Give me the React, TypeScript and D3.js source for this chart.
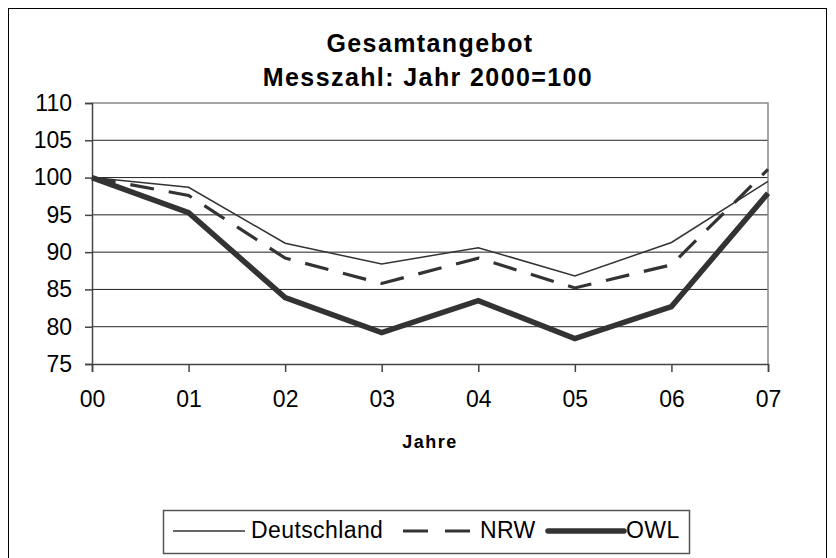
import { useEffect, useRef } from 'react';
import * as d3 from 'd3';

const years = ['00', '01', '02', '03', '04', '05', '06', '07'];
const deutschland = [100, 98.7, 91.2, 88.4, 90.6, 86.8, 91.3, 99.5];
const nrw = [100, 97.6, 89.2, 85.8, 89.2, 85.2, 88.3, 101.1];
const owl = [100, 95.3, 83.9, 79.2, 83.5, 78.4, 82.7, 97.9];
const yTicks = [75, 80, 85, 90, 95, 100, 105, 110];

const seriesList = [
  { name: 'Deutschland', values: deutschland, width: 1.5, dash: null as string | null },
  { name: 'NRW', values: nrw, width: 3.2, dash: '24 15' },
  { name: 'OWL', values: owl, width: 5.5, dash: null as string | null },
];

const FONT = '"Liberation Sans", Arial, sans-serif';

export default function App() {
  const svgRef = useRef<SVGSVGElement>(null);

  useEffect(() => {
    if (!svgRef.current) return;
    document.body.style.margin = '0';
    const svg = d3.select(svgRef.current);
    svg.selectAll('*').remove();
    const W = 836;
    const H = 558;
    const m = { left: 92, right: 768, top: 103, bottom: 364 };

    svg.append('rect').attr('width', W).attr('height', H).attr('fill', '#fff');
    svg
      .append('rect')
      .attr('x', 8.5)
      .attr('y', 8.5)
      .attr('width', 818)
      .attr('height', 570)
      .attr('fill', 'none')
      .attr('stroke', '#000')
      .attr('stroke-width', 1);

    const x = d3.scalePoint<string>().domain(years).range([m.left, m.right]);
    const y = d3.scaleLinear().domain([75, 110]).range([m.bottom, m.top]);

    // gridlines
    svg
      .append('g')
      .selectAll('line')
      .data(yTicks.filter((t) => t > 75 && t < 110))
      .join('line')
      .attr('x1', m.left)
      .attr('x2', m.right)
      .attr('y1', (d) => y(d))
      .attr('y2', (d) => y(d))
      .attr('stroke', '#222')
      .attr('stroke-width', 1);

    // plot frame (top / right)
    svg
      .append('path')
      .attr('d', `M${m.left},${m.top}H${m.right}V${m.bottom}`)
      .attr('fill', 'none')
      .attr('stroke', '#888')
      .attr('stroke-width', 1.5);

    // axes
    const yAxis = svg
      .append('g')
      .attr('transform', `translate(${m.left},0)`)
      .call(d3.axisLeft(y).tickValues(yTicks).tickSize(7).tickPadding(13).tickFormat(d3.format('d')));
    yAxis.select('.domain').attr('stroke', '#444').attr('stroke-width', 1.5);
    yAxis.selectAll('.tick line').attr('stroke', '#444').attr('stroke-width', 1.5);
    yAxis
      .selectAll('.tick text')
      .attr('font-family', FONT)
      .attr('font-size', 23)
      .attr('fill', '#000');

    const xAxis = svg
      .append('g')
      .attr('transform', `translate(0,${m.bottom})`)
      .call(d3.axisBottom(x).tickSize(8).tickPadding(19));
    xAxis.select('.domain').attr('stroke', '#444').attr('stroke-width', 1.5);
    xAxis.selectAll('.tick line').attr('stroke', '#444').attr('stroke-width', 1.5);
    xAxis
      .selectAll('.tick text')
      .attr('font-family', FONT)
      .attr('font-size', 23)
      .attr('fill', '#000');

    // lines
    const line = d3
      .line<number>()
      .x((_, i) => x(years[i]) as number)
      .y((d) => y(d));
    seriesList.forEach((s) => {
      svg
        .append('path')
        .datum(s.values)
        .attr('d', line)
        .attr('fill', 'none')
        .attr('stroke', '#333')
        .attr('stroke-width', s.width)
        .attr('stroke-linejoin', 'miter')
        .attr('stroke-dasharray', s.dash);
    });

    // titles
    const title = svg
      .append('text')
      .attr('text-anchor', 'middle')
      .attr('font-family', FONT)
      .attr('font-weight', 'bold')
      .attr('font-size', 25)
      .attr('letter-spacing', 1.4)
      .attr('fill', '#000');
    title.append('tspan').attr('x', 430).attr('y', 52).text('Gesamtangebot');
    title.append('tspan').attr('x', 428).attr('y', 86).text('Messzahl: Jahr 2000=100');

    svg
      .append('text')
      .attr('x', 430)
      .attr('y', 448)
      .attr('text-anchor', 'middle')
      .attr('font-family', FONT)
      .attr('font-weight', 'bold')
      .attr('font-size', 18)
      .attr('letter-spacing', 1.5)
      .attr('fill', '#000')
      .text('Jahre');

    // legend
    const lg = svg.append('g');
    lg.append('rect')
      .attr('x', 163.5)
      .attr('y', 510.5)
      .attr('width', 526)
      .attr('height', 43)
      .attr('fill', '#fff')
      .attr('stroke', '#555')
      .attr('stroke-width', 1.5);
    const items = [
      { s: seriesList[0], x1: 173, x2: 245, tx: 251 },
      { s: seriesList[1], x1: 403, x2: 472, tx: 480 },
      { s: seriesList[2], x1: 548, x2: 624, tx: 626 },
    ];
    items.forEach((it) => {
      lg.append('line')
        .attr('x1', it.x1)
        .attr('x2', it.x2)
        .attr('y1', 531)
        .attr('y2', 531)
        .attr('stroke', '#333')
        .attr('stroke-width', it.s.width)
        .attr('stroke-linecap', it.s.name === 'OWL' ? 'round' : 'butt')
        .attr('stroke-dasharray', it.s.dash ? '25 17' : null);
      lg.append('text')
        .attr('x', it.tx)
        .attr('y', 538)
        .attr('font-family', FONT)
        .attr('font-size', 23)
        .attr('letter-spacing', 0.4)
        .attr('fill', '#000')
        .text(it.s.name);
    });
  }, []);

  return (
    <svg
      ref={svgRef}
      width={836}
      height={558}
      style={{ position: 'absolute', left: 0, top: 0, display: 'block' }}
    />
  );
}
